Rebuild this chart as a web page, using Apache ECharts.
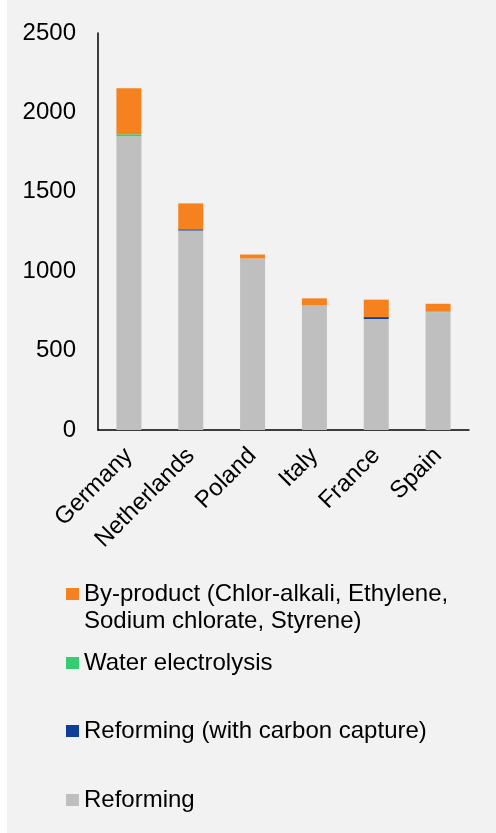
<!DOCTYPE html>
<html>
<head>
<meta charset="utf-8">
<script src="https://cdn.jsdelivr.net/npm/echarts@6/dist/echarts.min.js"></script>
<style>
  html, body { margin: 0; padding: 0; background: #ffffff; }
  #chart { width: 496px; height: 833px; }
</style>
</head>
<body>
<div id="chart"></div>
<script>
// Hydrogen production capacity by country and route
const categories = ['Germany', 'Netherlands', 'Poland', 'Italy', 'France', 'Spain'];
const reforming = [1850, 1256, 1080, 785, 699, 742];
const reformingCC = [0, 8, 0, 0, 12, 0];
const waterElectrolysis = [12, 0, 0, 0, 0, 4];
const byProduct = [290, 163, 25, 44, 110, 49];
const yTicks = [0, 500, 1000, 1500, 2000, 2500];

const NAME_BY = 'By-product (Chlor-alkali, Ethylene, Sodium chlorate, Styrene)';
const NAME_WATER = 'Water electrolysis';
const NAME_CC = 'Reforming (with carbon capture)';
const NAME_REF = 'Reforming';

const FONT = "'Liberation Sans', Arial, sans-serif";
const colors = {
  [NAME_REF]: '#bfbfbf',
  [NAME_CC]: '#0d3f99',
  [NAME_WATER]: '#36cc72',
  [NAME_BY]: '#f5821f'
};

function bar(name, data) {
  return {
    name: name,
    type: 'bar',
    stack: 'total',
    barWidth: 25,
    data: data,
    itemStyle: { color: colors[name] }
  };
}

// One legend block per series so the vertical gaps can differ.
// The wrapped label gets a blank leading line so its first line sits level with the swatch.
function legendItem(name, top) {
  return {
    orient: 'vertical',
    left: 66,
    top: top,
    padding: 0,
    itemWidth: 13,
    itemHeight: 12,
    icon: 'rect',
    selectedMode: false,
    data: [name],
    formatter: function (n) {
      return n === NAME_BY ? '\nBy-product (Chlor-alkali, Ethylene,\nSodium chlorate, Styrene)' : n;
    },
    textStyle: {
      fontFamily: FONT,
      fontSize: 24,
      lineHeight: 27,
      color: '#000'
    }
  };
}

const chart = echarts.init(document.getElementById('chart'), null, { renderer: 'canvas' });
chart.setOption({
  backgroundColor: '#f2f2f2',
  animation: false,
  graphic: [{
    type: 'rect',
    left: 0, top: 0,
    shape: { width: 7, height: 833 },
    style: { fill: '#ffffff' },
    silent: true
  }],
  grid: { left: 98, right: 27, top: 33, bottom: 403, containLabel: false },
  xAxis: {
    type: 'category',
    data: categories,
    axisLine: { lineStyle: { color: '#000', width: 1.5 } },
    axisTick: { show: false },
    axisLabel: {
      rotate: 45,
      margin: 22,
      interval: 0,
      color: '#000',
      fontFamily: FONT,
      fontSize: 24
    }
  },
  yAxis: {
    type: 'value',
    min: yTicks[0],
    max: yTicks[yTicks.length - 1],
    interval: yTicks[1] - yTicks[0],
    axisLine: { show: true, lineStyle: { color: '#000', width: 1.5 } },
    axisTick: { show: false },
    splitLine: { show: false },
    axisLabel: {
      margin: 22,
      color: '#000',
      fontFamily: FONT,
      fontSize: 24,
      formatter: function (v) { return String(v); }
    }
  },
  legend: [
    legendItem(NAME_BY, 553.5),
    legendItem(NAME_WATER, 649.5),
    legendItem(NAME_CC, 717.5),
    legendItem(NAME_REF, 786.5)
  ],
  series: [
    bar(NAME_REF, reforming),
    bar(NAME_CC, reformingCC),
    bar(NAME_WATER, waterElectrolysis),
    bar(NAME_BY, byProduct)
  ]
});
</script>
</body>
</html>
